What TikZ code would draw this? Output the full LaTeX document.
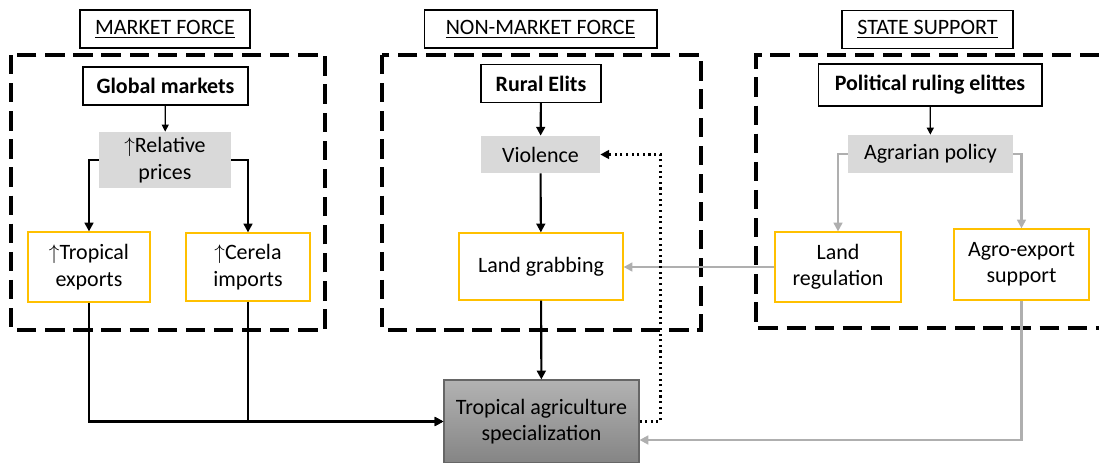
\documentclass[tikz,border=0pt]{standalone}
\usepackage{fontspec}
\setmainfont{Carlito}
\usetikzlibrary{arrows.meta}

\definecolor{gold}{HTML}{FFC000}
\definecolor{pale}{HTML}{D9D9D9}
\definecolor{wire}{HTML}{AFAFAF}

\begin{document}
\begin{tikzpicture}[x=0.02cm,y=-0.02cm,font=\fontsize{12.5}{15}\selectfont,
  title/.style={draw,line width=0.6pt,inner sep=0pt,minimum height=0.76cm},
  actor/.style={draw,line width=0.6pt,inner sep=0pt,minimum height=0.76cm,font=\fontsize{12.5}{15}\selectfont\bfseries},
  cause/.style={fill=pale,inner sep=0pt,align=center},
  effect/.style={draw=gold,line width=0.7pt,inner sep=0pt,align=center},
  frame/.style={line width=1.8pt,dash pattern=on 11pt off 5pt},
  link/.style={line width=1.2pt,-{Triangle[length=5pt,width=5pt]}},
  thin/.style={line width=0.7pt,-{Triangle[length=4pt,width=4pt]}},
  grey/.style={wire,line width=1.2pt,-{Triangle[length=5pt,width=5pt]}}]
\useasboundingbox (0,0) rectangle (1099,463);

% the three forces
\draw[frame] (11,55) rectangle (325,330);
\draw[frame] (382,55) rectangle (701,330);
\draw[frame] (1099,55) -- (756,55) -- (756,328) -- (1099,328);
\node[title,minimum width=3.4cm] (mf) at (165,29) {\underline{MARKET FORCE}};
\node[title,minimum width=4.66cm] (nmf) at (540.5,29) {\underline{NON-MARKET FORCE}};
\node[title,minimum width=3.42cm] (ss) at (927.5,29.5) {\underline{STATE SUPPORT}};

% actors
\node[actor,minimum width=3.3cm] (gm) at (165.5,86) {Global markets};
\node[actor,minimum width=2.4cm] (re) at (541,83.5) {Rural Elits};
\node[actor,minimum width=4.48cm,minimum height=0.84cm] (pe) at (930,85) {Political ruling elittes};

% mechanisms
\node[cause,minimum width=2.64cm,minimum height=1.12cm] (rp) at (165,160) {$\uparrow$Relative\\prices};
\node[cause,minimum width=2.38cm,minimum height=0.74cm] (vi) at (540.5,154.5) {Violence};
\node[cause,minimum width=3.3cm,minimum height=0.76cm] (ap) at (930.5,154) {Agrarian policy};

% outcomes
\node[effect,minimum width=2.44cm,minimum height=1.4cm] (te) at (89,267) {$\uparrow$Tropical\\exports};
\node[effect,minimum width=2.48cm,minimum height=1.36cm] (ci) at (248,267) {$\uparrow$Cerela\\imports};
\node[effect,minimum width=3.28cm,minimum height=1.34cm] (lg) at (541,266.5) {Land grabbing};
\node[effect,minimum width=2.52cm,minimum height=1.4cm] (lr) at (838,267) {Land\\regulation};
\node[effect,minimum width=2.7cm,minimum height=1.42cm] (ax) at (1021.5,264.5) {Agro-export\\support};

\node[draw=black!60,line width=0.6pt,top color=black!30,bottom color=black!48,align=center,
  inner sep=0pt,minimum width=3.9cm,minimum height=1.66cm] (sp) at (541.5,421.5)
  {Tropical agriculture\\specialization};

\draw[thin] (gm) -- (rp);
\draw[thin] (pe) -- (ap);
\draw[link] (rp.west) -| (te.north);
\draw[link] (rp.east) -| (ci.north);
\draw[link] (re) -- (vi);
\draw[link] (vi) -- (lg);
\draw[grey] (ap.west) -| (lr.north);
\draw[grey] (ap.east) -| (ax.north);
\draw[grey] (lr.west) -- (lr.west -| lg.east);

\draw[link] (te.south) |- (sp.west);
\draw[link] (ci.south) |- (sp.west);
\draw[link] (lg) -- (sp);
\draw[line width=1.2pt,dotted,-{Triangle[length=5pt,width=5pt]}] (sp.east) -- ++(21,0) |- (vi.east);
\draw[grey] (ax.south) |- ([yshift=-0.37cm]sp.east);
\end{tikzpicture}
\end{document}
